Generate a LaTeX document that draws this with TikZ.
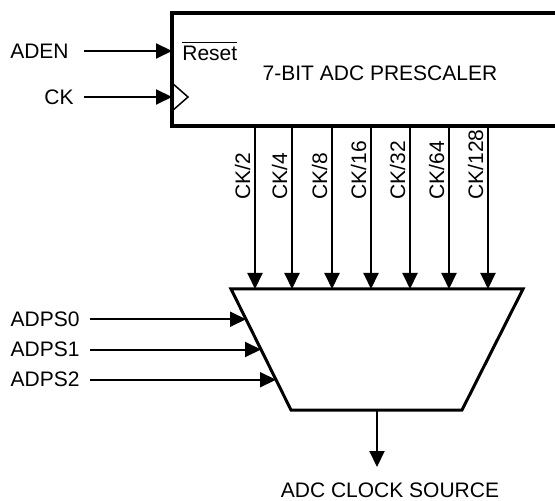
\documentclass[tikz,border=0pt]{standalone}
\usepackage{fontspec}
\setmainfont{Liberation Sans}
\usetikzlibrary{arrows.meta,calc}
\tikzset{
  sig/.style={-{Triangle[length=8pt,width=7.5pt]}, line width=1pt},
  siglabel/.style={font=\fontsize{10.5}{12.6}\selectfont, inner xsep=5pt, inner ysep=2pt},
  block/.style={line width=2pt},
}

\begin{document}
\begin{tikzpicture}[x=0.5pt, y=-0.5pt]
  \useasboundingbox (0,0) rectangle (555,501);

  % Prescaler block (right edge runs off the page)
  \coordinate (pTL) at (172,13);
  \coordinate (pBL) at (172,126);
  \draw[block] (555,13) -- (pTL) -- (pBL) -- (555,126);
  \node[siglabel, anchor=west, inner sep=0] (rst) at (182,51) {$\overline{\mbox{Reset}}$};
  \node[siglabel] (pre) at (380,73) {7-BIT ADC PRESCALER};

  % Clock input marker
  \draw[line width=0.75pt] (172,83) -- (188,97) -- (172,111);

  % Inputs to the prescaler
  \coordinate (rin) at (172,51);
  \coordinate (cin) at (172,97);
  \node[siglabel, anchor=east, inner xsep=7.5pt] (aden) at (84,51) {ADEN};
  \node[siglabel, anchor=east] (ck) at (84,97) {CK};
  \draw[sig] (aden) -- (rin);
  \draw[sig] (ck) -- (cin);

  % Selector
  \coordinate (mTL) at (231,289);
  \coordinate (mTR) at (523,289);
  \coordinate (mBR) at (462,410);
  \coordinate (mBL) at (291,410);
  \draw[line width=1.5pt, line join=miter] (mTL) -- (mTR) -- (mBR) -- (mBL) -- cycle;

  % Divided clocks
  \foreach \x/\d [count=\i] in {255/2, 292/4, 332/8, 371/16, 410/32, 449/64, 488/128} {
    \coordinate (ck\i) at (\x,126);
    \coordinate (sel\i) at (\x,289);
    \draw[sig] (ck\i) -- (sel\i);
    \node[siglabel, rotate=90, anchor=base west, inner sep=0] (div\i) at (\x-5,200) {CK/\d};
  }

  % Select lines
  \foreach \n/\f in {0/0.25, 1/0.5, 2/0.75} {
    \coordinate (ps\n) at ($(mTL)!\f!(mBL)$);
    \node[siglabel, anchor=east] (adps\n) at (ps\n -| 90,0) {ADPS\n};
    \draw[sig] (adps\n) -- (ps\n);
  }

  % Output
  \coordinate (out) at (377,410);
  \coordinate (src) at (377,467);
  \draw[sig] (out) -- (src);
  \node[siglabel] (srclbl) at (390,490) {ADC CLOCK SOURCE};
\end{tikzpicture}
\end{document}
